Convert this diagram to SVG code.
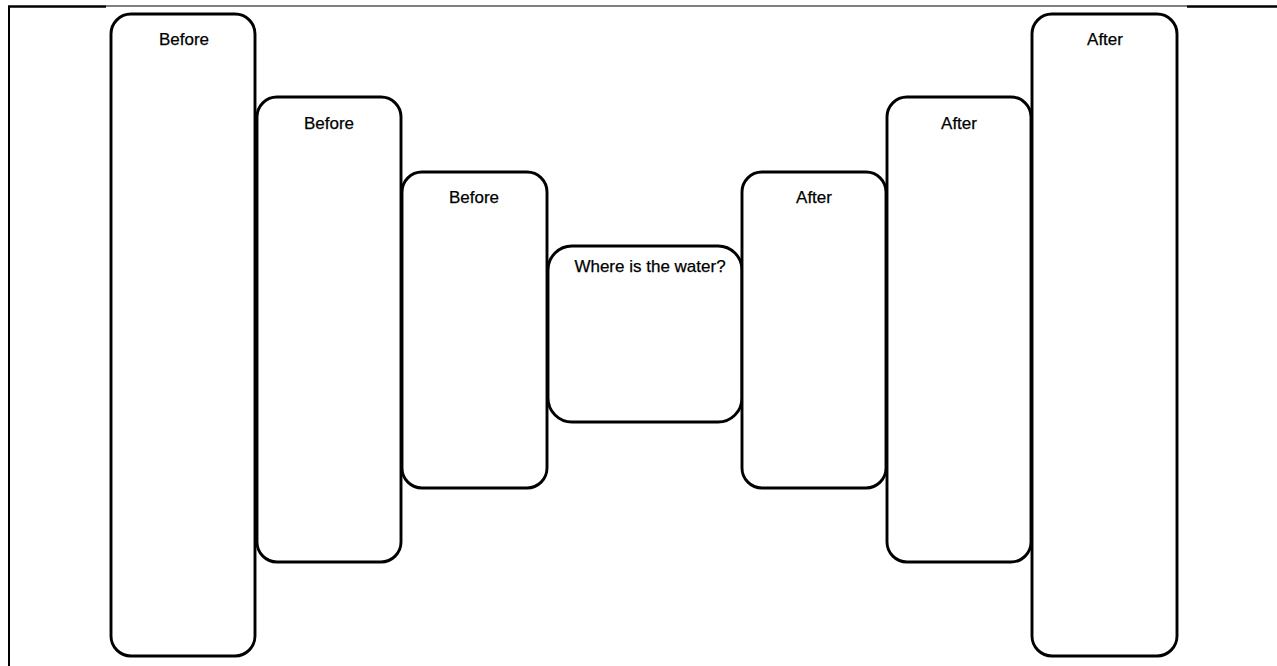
<svg xmlns="http://www.w3.org/2000/svg" width="1277" height="666" viewBox="0 0 1277 666">
<style>
.box{fill:#fff;stroke:#000;stroke-width:2.9}
.lbl{font-family:"Liberation Sans",Arial,sans-serif;font-size:17px;fill:#000;text-anchor:middle;stroke:#000;stroke-width:0.25}
.faint{stroke:#f2f2f2;stroke-width:1;fill:none}
.frame{stroke:#000;fill:none}
</style>
<rect width="1277" height="666" fill="#fff"/>
<g id="frame">
<line class="frame" x1="8" y1="6.5" x2="106" y2="6.5" stroke-width="2.5"/>
<line class="frame" x1="106" y1="6" x2="1187" y2="6" stroke-width="1"/>
<line class="frame" x1="1187" y1="6.5" x2="1277" y2="6.5" stroke-width="2.5"/>
<line class="frame" x1="9" y1="6" x2="9" y2="666" stroke-width="2"/>
</g>
<g id="faint-lines">
<line class="faint" x1="155" y1="272.5" x2="1127" y2="272.5"/>
<line class="faint" x1="1127.5" y1="40" x2="1127.5" y2="272"/>
</g>
<g id="connectors"></g>
<g id="before1"><rect class="box" x="111" y="14" width="144" height="642" rx="20"/><text class="lbl" x="184" y="45">Before</text></g>
<g id="before2"><rect class="box" x="257" y="97" width="144" height="465" rx="20"/><text class="lbl" x="329" y="129">Before</text></g>
<g id="before3"><rect class="box" x="402" y="172" width="145" height="316" rx="20"/><text class="lbl" x="474" y="203">Before</text></g>
<g id="water"><rect class="box" x="548" y="246" width="194" height="176" rx="24"/><text class="lbl" x="650" y="272">Where is the water?</text></g>
<g id="after1"><rect class="box" x="742" y="172" width="144" height="316" rx="20"/><text class="lbl" x="814" y="203">After</text></g>
<g id="after2"><rect class="box" x="887" y="97" width="144" height="465" rx="20"/><text class="lbl" x="959" y="129">After</text></g>
<g id="after3"><rect class="box" x="1032" y="14" width="145" height="642" rx="20"/><text class="lbl" x="1105" y="45">After</text></g>
</svg>
